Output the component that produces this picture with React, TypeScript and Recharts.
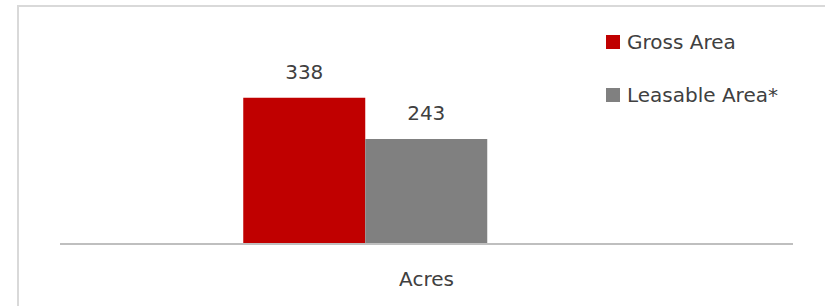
import { BarChart, Bar, XAxis, YAxis, LabelList } from "recharts"

const CATEGORIES = ["Acres"]
const GROSS_AREA = [338]
const LEASABLE_AREA = [243]

const SERIES = [
  { key: "gross", name: "Gross Area", color: "#C00000" },
  { key: "leasable", name: "Leasable Area*", color: "#808080" },
]

const data = CATEGORIES.map((c, i) => ({
  category: c,
  gross: GROSS_AREA[i],
  leasable: LEASABLE_AREA[i],
  blank: null,
}))

const FONT = "'DejaVu Sans', sans-serif"
const TEXT = "#404040"

function LegendBox() {
  return (
    <div
      style={{
        position: "absolute",
        left: 606,
        top: 35,
        fontFamily: FONT,
        fontSize: 20,
        color: TEXT,
      }}
    >
      {SERIES.map((s, i) => (
        <div
          key={s.key}
          style={{ display: "flex", alignItems: "center", height: 14, marginBottom: i === 0 ? 39 : 0 }}
        >
          <span style={{ width: 14, height: 14, background: s.color, marginRight: 7, flex: "none" }} />
          <span style={{ whiteSpace: "nowrap", lineHeight: "14px" }}>{s.name}</span>
        </div>
      ))}
    </div>
  )
}

export default function App() {
  return (
    <div style={{ position: "absolute", left: 0, top: 0, width: 825, height: 306, overflow: "hidden", background: "#fff" }}>
      <div
        style={{
          position: "absolute",
          left: 17,
          top: 5,
          width: 900,
          height: 400,
          border: "2px solid #d9d9d9",
        }}
      />
      <BarChart
        width={825}
        height={306}
        data={data}
        margin={{ top: 71, right: 32, bottom: 0, left: 60 }}
        barCategoryGap="25%"
        barGap={0}
      >
        <XAxis
          dataKey="category"
          height={62}
          axisLine={{ stroke: "#bfbfbf", strokeWidth: 2 }}
          tickLine={false}
          tickMargin={22}
          tick={{ fill: TEXT, fontSize: 20, fontFamily: FONT }}
        />
        <YAxis hide domain={[0, 400]} />
        {SERIES.map((s) => (
          <Bar key={s.key} dataKey={s.key} name={s.name} fill={s.color} isAnimationActive={false}>
            <LabelList
              dataKey={s.key}
              position="top"
              offset={19}
              fill={TEXT}
              fontSize={20}
              fontFamily={FONT}
            />
          </Bar>
        ))}
        <Bar dataKey="blank" legendType="none" fill="none" isAnimationActive={false} />
      </BarChart>
      <LegendBox />
    </div>
  )
}
